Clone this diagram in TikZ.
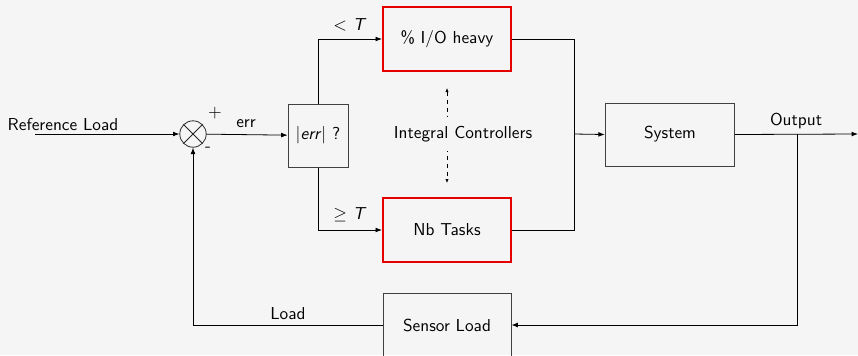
\documentclass[tikz,border=0pt]{standalone}
\usetikzlibrary{arrows.meta}
\begin{document}
\begin{tikzpicture}[x=0.625pt,y=-0.625pt,font=\sffamily\fontsize{10.8}{13}\selectfont,
  line width=0.5pt,
  blk/.style={draw=black!75,minimum width=80pt,minimum height=40pt,inner sep=0pt},
  redblk/.style={blk,draw=red!90!black,line width=1.3pt},
  arr/.style={-{Latex[length=4pt,width=3pt]}},
  lbl/.style={inner sep=0pt}]
\fill[black!4] (0,0) rectangle (858,355);
\useasboundingbox (0,0) rectangle (858,355);
\begin{scope}
\clip (0,0) rectangle (858,355);
\coordinate (ref) at (35,134);
\node[lbl] (reflbl) at (63,124) {Reference Load};
\node[draw=black!85,circle,minimum size=16.5pt,inner sep=0pt] (sum) at (193,134) {};
\draw[black!85] (sum.north west) -- (sum.south east) (sum.north east) -- (sum.south west);
\node[lbl] (plus) at (215,113) {$+$};
\node[lbl] (minus) at (208,149) {-};
\node[lbl] (errlbl) at (246,124) {err};
\node[blk,minimum width=37.5pt,minimum height=39.5pt] (errbox) at (318,135.5) {$|$\textit{err}$|$ ?};
\node[redblk] (io) at (447,39) {\% I/O heavy};
\node[redblk] (nb) at (447,230) {Nb Tasks};
\node[blk,minimum width=81pt,minimum height=39.5pt] (sys) at (670,134.5) {System};
\node[blk] (sens) at (447,325) {Sensor Load};
\node[lbl] (ltT) at (350,25) {$<$ \textit{T}};
\node[lbl] (geT) at (350,215) {$\geq$ \textit{T}};
\coordinate (dtop) at (447,88);
\coordinate (dbot) at (447,183);
\draw[{Latex[length=2.5pt,width=2pt]}-{Latex[length=2.5pt,width=2pt]},line width=0.4pt,dash pattern=on 2.5pt off 2.5pt] (dtop) -- (dbot);
\node[fill=black!4,inner xsep=2pt,inner ysep=6pt] (ic) at (463,134) {Integral Controllers};
\coordinate (j) at (574,134);
\coordinate (out) at (858,134);
\coordinate (br) at (797,134);
\node[lbl] (outlbl) at (796,121) {Output};
\node[lbl] (loadlbl) at (288,314) {Load};

\draw[arr] (ref) -- (sum);
\draw[arr] (sum) -- (errbox);
\draw[arr] (errbox.north) |- (io.west);
\draw[arr] (errbox.south) |- (nb.west);
\draw (io.east) -| (j);
\draw (nb.east) -| (j);
\draw[arr] (j) -- (sys.west);
\draw[arr] (sys.east) -- (out);
\draw[arr] (br) |- (sens.east);
\draw[arr] (sens.west) -| (sum.south);
\end{scope}
\end{tikzpicture}
\end{document}
